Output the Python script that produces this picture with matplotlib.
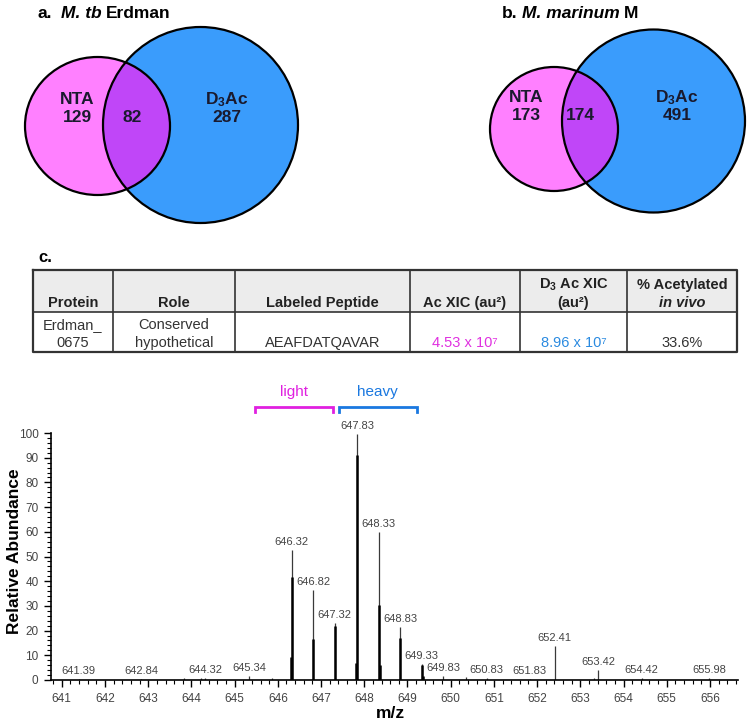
import numpy as np
import matplotlib
matplotlib.use("Agg")
import matplotlib.pyplot as plt
from matplotlib.patches import Ellipse
from matplotlib.ticker import MultipleLocator

plt.rcParams['font.family'] = ['Liberation Sans', 'DejaVu Sans']
plt.rcParams['mathtext.fontset'] = 'custom'
plt.rcParams['mathtext.rm'] = 'Liberation Sans:bold'
plt.rcParams['mathtext.default'] = 'rm'

# Venn counts: NTA only, shared, D3Ac only
venn_a = [129, 82, 287]
venn_b = [173, 174, 491]
set_names = ['NTA', 'D$_3$Ac']

# Table c
table_header = [("", "Protein"), ("", "Role"), ("", "Labeled Peptide"),
                ("", "Ac XIC (au\u00b2)"), ("D$_3$ Ac XIC", "(au\u00b2)"),
                ("% Acetylated", "in vivo")]
table_row = [("Erdman_", "0675"), ("Conserved", "hypothetical"), ("", "AEAFDATQAVAR"),
             ("", "4.53 x 10\u2077"), ("", "8.96 x 10\u2077"), ("", "33.6%")]
row_colors = ['#333333', '#333333', '#333333', '#e030e0', '#2a8ae0', '#333333']

# Spectrum (m/z, relative abundance)
peak_mz = [641.39, 642.84, 643.83, 644.22, 644.32, 645.34, 645.86, 646.32, 646.82,
           647.32, 647.83, 648.33, 648.83, 649.33, 649.83, 650.35, 650.83, 651.83,
           652.41, 653.32, 653.42, 654.42, 655.98]
peak_int = [0.5, 0.4, 0.8, 0.8, 0.9, 1.8, 1.0, 52.5, 36.6,
            22.9, 99.7, 59.9, 21.5, 6.5, 1.5, 1.2, 0.8, 0.5,
            13.7, 1.0, 4.0, 0.8, 0.8]
core_mz = [646.32, 646.82, 647.32, 647.83, 648.33, 648.83, 649.33, 646.30, 647.81, 648.37, 649.36]
core_int = [41.7, 16.8, 22.0, 90.9, 30.3, 16.9, 6.0, 9.4, 6.9, 6.0, 1.5]
label_mz = [641.39, 642.84, 644.32, 645.34, 646.32, 646.82, 647.32, 647.83, 648.33,
            648.83, 649.33, 649.83, 650.83, 651.83, 652.41, 653.42, 654.42, 655.98]
label_int = [0.5, 0.4, 0.9, 1.8, 52.5, 36.6, 22.9, 99.7, 59.9,
             21.5, 6.5, 1.5, 0.8, 0.5, 13.7, 4.0, 0.8, 0.8]
brackets = [("light", 645.47, 647.27, '#e020e0'), ("heavy", 647.41, 649.22, '#1a78e0')]

fig = plt.figure(figsize=(7.5, 7.27), dpi=100)

# overlay in pixel coordinates for venn + table
ov = fig.add_axes([0, 0, 1, 1])
ov.set_xlim(0, 750)
ov.set_ylim(727, 0)
ov.axis('off')

pink, purple, blue = '#ff80ff', '#c046f8', '#3a9cfc'


def venn(pc, pw, ph, bc, bw, bh, counts, txt):
    bl = Ellipse(bc, bw, bh, facecolor=blue, edgecolor='none')
    ov.add_patch(bl)
    ov.add_patch(Ellipse(pc, pw, ph, facecolor=pink, edgecolor='none'))
    mid = Ellipse(pc, pw, ph, facecolor=purple, edgecolor='none')
    ov.add_patch(mid)
    mid.set_clip_path(bl)
    ov.add_patch(Ellipse(bc, bw, bh, facecolor='none', edgecolor='black', lw=1.6))
    ov.add_patch(Ellipse(pc, pw, ph, facecolor='none', edgecolor='black', lw=1.6))
    kw = dict(ha='center', va='center', fontsize=12.5, fontweight='bold', color='#1a1a2e')
    ov.text(txt[0][0], txt[0][1], set_names[0], **kw)
    ov.text(txt[0][0], txt[0][1] + 18, f"{counts[0]}", **kw)
    ov.text(txt[1][0], txt[1][1] + 18, f"{counts[1]}", **kw)
    ov.text(txt[2][0], txt[2][1], set_names[1], **kw)
    ov.text(txt[2][0], txt[2][1] + 18, f"{counts[2]}", **kw)


venn((97.5, 126), 145, 138, (200.5, 125), 195, 196, venn_a,
     [(77, 100), (132, 100), (227, 100)])
venn((554, 129), 128, 124, (653.5, 121), 183, 183, venn_b,
     [(526, 98), (580, 98), (677, 98)])


def title(x, y, parts):
    t = ov.text(x, y, parts[0][0], fontsize=12.5, fontweight='bold', style=parts[0][1],
                va='center', ha='left')
    for s, st, gap in parts[1:]:
        t = ov.annotate(s, xy=(1, 0), xycoords=t, xytext=(gap, 0), textcoords='offset points',
                        fontsize=12.5, fontweight='bold', style=st, va='bottom', ha='left')


title(38, 13, [("a.", 'normal'), ("M. tb", 'italic', 6), ("Erdman", 'normal', 3)])
title(502, 13, [("b.", 'normal'), ("M. marinum", 'italic', 3), ("M", 'normal', 3)])
ov.text(38, 257, "c.", fontsize=12, fontweight='bold', va='center', ha='left')

# table
col_x = [33, 113, 235, 410, 520, 627, 737]
top, sep, bot = 270, 312, 352
ov.fill_between([col_x[0], col_x[-1]], top, sep, color='#ececec', lw=0)
ov.plot([col_x[0], col_x[-1], col_x[-1], col_x[0], col_x[0]], [top, top, bot, bot, top],
        color='#333333', lw=1.6)
ov.plot([col_x[0], col_x[-1]], [sep, sep], color='#333333', lw=1.2)
for cx in col_x[1:-1]:
    ov.plot([cx, cx], [top, bot], color='#333333', lw=1.2)
for i, (h, r) in enumerate(zip(table_header, table_row)):
    xc = (col_x[i] + col_x[i + 1]) / 2
    ov.text(xc, 285, h[0], ha='center', va='center', fontsize=10.5, fontweight='bold', color='#222222')
    ov.text(xc, 303, h[1], ha='center', va='center', fontsize=10.5, fontweight='bold', color='#222222',
            style='italic' if h[1] == 'in vivo' else 'normal')
    ov.text(xc, 325, r[0], ha='center', va='center', fontsize=10.5, color=row_colors[i])
    ov.text(xc, 343, r[1], ha='center', va='center', fontsize=10.5, color=row_colors[i])

# spectrum
ax = fig.add_axes([51 / 750, 1 - 680 / 727, 687 / 750, 247 / 727])
ax.vlines(peak_mz, 0, peak_int, color='#3a3a3a', lw=0.9)
ax.vlines(core_mz, 0, core_int, color='black', lw=1.8)
for m, h in zip(label_mz, label_int):
    ax.text(m, h + 1.2, f"{m:.2f}", ha='center', va='bottom', fontsize=8, color='#444444', clip_on=False)
for name, x0, x1, c in brackets:
    ax.plot([x0, x0, x1, x1], [108.3, 110.5, 110.5, 108.3], color=c, lw=2, clip_on=False,
            solid_joinstyle='miter')
    ax.text((x0 + x1) / 2, 116.5, name, ha='center', va='center', fontsize=11, color=c)

ax.set_xlim(640.75, 656.65)
ax.set_ylim(0, 100)
ax.set_xticks(np.arange(641, 657))
ax.set_yticks(np.arange(0, 101, 10))
ax.xaxis.set_minor_locator(MultipleLocator(0.2))
ax.yaxis.set_minor_locator(MultipleLocator(2))
ax.spines['top'].set_visible(False)
ax.spines['right'].set_visible(False)
ax.spines['left'].set_linewidth(1.2)
ax.spines['bottom'].set_linewidth(1.2)
ax.tick_params(which='major', length=5, width=1, labelsize=8.5, labelcolor='#444444', pad=4)
ax.tick_params(which='minor', length=3, width=0.8)
ax.patch.set_alpha(0)
ov.text(390, 714, "m/z", ha='center', va='center', fontsize=12.5, fontweight='bold')
ov.text(15, 551, "Relative Abundance", ha='center', va='center', rotation=90,
        fontsize=12.5, fontweight='bold')

fig.savefig("out.png", dpi=100)
